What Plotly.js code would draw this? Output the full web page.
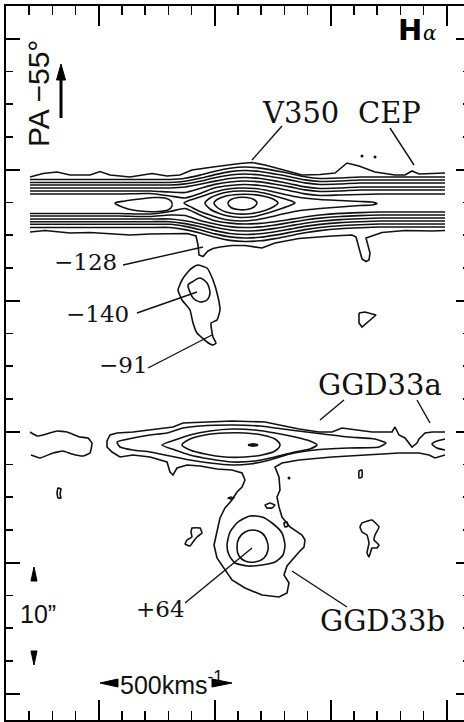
<!DOCTYPE html>
<html><head><meta charset="utf-8">
<script src="https://cdn.plot.ly/plotly-3.0.1.min.js"></script>
<style>html,body{margin:0;padding:0;overflow:hidden;background:#fff}</style>
</head><body><div id="chart"></div>
<script>

// ---- V350 CEP band: common velocity samples for the smooth inner band contours
const bandX = [30,60,90,120,150,170,185,200,215,230,245,260,275,290,305,320,340,360,380,400,420,445];
const bandU2 = [179.5,179.5,179.5,179.5,179.5,179.5,178.3,175.1,171.2,168.2,167,168.1,170.6,173.5,176.8,178.5,178,177,177,177,177,177];
const bandU3 = [182.5,182.5,182.5,182.5,182.5,182.5,181.3,178.3,174.6,171.6,170.5,171.5,174,176.7,179.9,181.5,181,180,180,180,180,180];
const bandU4 = [185,185,185,185,185,185,183.9,181.2,177.7,175,174,175,177.3,179.9,182.9,184.5,184,183,183,183,183,183];
const bandU5 = [188,188,188,188,188,188,187,184.3,181.1,178.5,177.5,178.5,180.9,183.7,186.9,188.5,188,187,187,187,187,187];
const bandU6 = [191,191,191,191,191,192,192.5,188.5,184.4,182,181,181.9,184.2,186.9,189.9,191.5,191,190,190,190,190,190];
const bandU7 = [194,194,194,194,193.5,196,198,193.5,187.8,185.5,184.5,185.5,187.8,190.7,193.9,195.5,195,194.5,194,194,194,194];
const bandL7 = [213.5,213.5,213.5,213.5,214,211.5,208.5,215,220.8,223.1,224,223.4,221.7,219.4,217,215,213.4,212.6,212,212,212,212];
const bandL6 = [216,216,216,216,216.5,215,215.5,220.6,224,226.6,227.5,226.9,225,222.5,220,218.1,216.5,215.6,215,215,215,215];
const bandL5 = [219,219,219,219,219,219,220.8,223.8,227.3,230,231,230.4,228.4,225.8,223.2,221.3,219.6,218.7,218,218,218,218];
const bandL4 = [221.7,221.7,221.7,221.7,221.7,221.7,223.6,226.8,230.6,233.5,234.5,233.8,231.8,229.1,226.4,224.4,222.6,221.7,221,221,221,221];
const bandL3 = [224.3,224.3,224.3,224.3,224.3,224.3,226.4,229.8,233.9,236.9,238,237.3,235.1,232.4,229.6,227.5,225.7,224.7,224,224,224,224];
const bandL2 = [227.5,227.5,227.5,227.5,227.5,227.5,229.6,233.1,237.3,240.4,241.5,240.8,238.6,235.7,232.8,230.6,228.7,227.7,227,227,227,227];

// outermost band contours (irregular)
const bandU1X = [30,43,57,70,90,100,110,130,152,167,180,192,213,227,240,252,265,280,302,320,335,347,359,375,395,405,412,419,445];
const bandU1Y = [177,173.5,172,175,175,171.5,175,177,173.5,176,175,170,167,165,163.5,162.5,165,169,175,174.5,173,163,166,172,175,175,171,174,173];
const bandL1X = [30,45,55,70,90,110,130,150,170,187,196,198,199,203,208,213,220,232,245,262,275,299,332,352,356,359,362,366,369,370,367,366,382,405,432,445];
const bandL1Y = [232,230.5,231.5,233,232.5,233.5,235,234,234,233.5,236,245,255,256.5,251,248.5,247,245.5,245.5,248,243,238.5,236,235,237,248,259,261.5,260,253,243,238,232.5,230.5,231,230.5];

// closed inner contours around the V350 CEP peak
const v8lobeX = [115,125,140,155,165,171,172,168,158,140,125,115];
const v8lobeY = [203,201,199,197.5,198,201,206,210,211.5,211,208,203];
const v8X = [184,192,200,210,225,240,255,270,285,300,320,340,360,372,377,372,360,340,320,300,285,270,255,240,225,210,200,192,184];
const v8Y = [203,199.5,197,193.5,189.5,188,188.5,191,194.5,197.5,199.5,200.5,201.5,202,203.5,205,205.5,207,208.5,210.5,213.5,217,220,221,219.5,215,211.5,207.5,203];
const v9X = [205,210,218,228,240,255,268,280,290,295,290,280,268,255,240,228,218,210,205];
const v9Y = [203,198,194.5,192,191,191.5,194,197.5,200.5,203,205.5,209,213,216.5,217.5,216,213,209,203];
const v10X = [214,218,226,238,252,265,274,278,274,265,252,238,226,218,214];
const v10Y = [203,199,196,194.5,194.5,196.5,199.5,203,206.5,210.5,213.5,214,212,208,203];
const v11X = [228,231,238,247,254,257,254,247,238,231,228];
const v11Y = [203,199.5,197.5,197.5,199.5,203,207,209.5,209.5,207.5,203];

// knot below V350 CEP (-140 / -91)
const k140outerX = [198,207,213,218,220,217,211,213,216,213,207,197,193,190,182,178,182,187,192,198];
const k140outerY = [265,268,280,297,310,320,323,337,343,345,342,333,323,310,300,290,280,273,268,265];
const k140innerX = [192,200,207,210,207,200,193,190,188,192];
const k140innerY = [282,278,283,293,300,302,298,292,285,282];
const islandAX = [359,365,376,370,362,359,359];
const islandAY = [313,312,315,320,327,323,313];

// ---- GGD33a / GGD33b system
const gaLeftX = [30,37,43,57,67,80,88,92,90,83,72,63,53,40,31];
const gaLeftY = [432,436,435,431,432,437,438,443,453,456,454,451,453,458,455];
const gaOuterX = [445,432,425,419,417,412,405,399,395,392,372,355,342,332,319,299,265,232,200,183,173,150,133,117,110,107,107,112,120,133,150,167,170,173,177,187,200,217,232,242,245,242,237,232,225,220,217,214,217,223,232,245,262,279,287,289,284,287,292,299,304,305,302,290,282,279,277,280,279,275,282,299,332,365,399,419,429,435,445];
const gaOuterY = [432,432,433,439,443,447,438,435,427,432,432,430,428,432,432,429,422,421,422,423,427,430,432,433,435,441,447,452,457,455,457,462,472,475,468,465,466,469,470,473,480,487,492,500,508,518,530,545,558,567,580,588,595,597,593,583,575,566,560,552,547,540,535,527,517,507,497,490,477,467,463,460,457,455,453,453,455,458,455];
const gaEdgeLoopX = [445,437,432,437,445];
const gaEdgeLoopY = [439,441,444,448,450];
const ga2X = [117,133,150,167,183,200,232,260,290,315,349,375,386,379,349,315,290,270,250,232,210,190,170,150,133,120,117];
const ga2Y = [442,438,435,433,428,426,425,426,430,433,437,439,443,447,448,450,454,460,464,465,463,460,456,452,450,447,442];
const ga3X = [162,175,190,210,232,255,275,295,310,317,310,295,275,255,232,210,190,175,162];
const ga3Y = [445,440,435,431,429,430,433,437,441,445,449,452,457,461,462,459,455,450,445];
const ga4X = [182,190,205,225,245,262,275,280,275,262,245,225,205,190,182];
const ga4Y = [445,439,435,433,433,435,439,445,451,455,457,457,454,450,445];
const ga5X = [248,253,258,253,248];
const ga5Y = [445,444,445,446,445];
const gb2X = [227,230,238,250,262,272,282,285,283,275,262,248,235,229,227];
const gb2Y = [545,532,522,516,517,523,533,545,555,562,565,566,563,555,545];
const gb3X = [237,239,245,253,262,267,268,264,255,245,239,237];
const gb3Y = [548,538,532,530,533,541,550,558,562,561,556,548];

// small isolated contours
const bitsX = [
  [58,61,60,61,58,57,58],
  [192,200,202,197,193,190,185,187,192,191,192],
  [228,231,234,231,228],
  [265,270,275,272,267,265],
  [362,372,379,375,374,379,377,372,369,367,369,367,362,360,362],
  [359,362,362,359,359],
  [284,287,288,285,284]
];
const bitsY = [
  [488,489,494,498,498,493,488],
  [528,528,533,537,542,546,544,540,537,532,528],
  [498,497,498,499,498],
  [505,503,505,508,508,505],
  [523,520,527,535,540,545,548,548,557,553,543,535,532,527,523],
  [471,470,477,478,471],
  [523,522,526,527,523]
];
const specksX = [362,375,289];
const specksY = [156,157,478];

// ---- labels: [text, x, y]
const nameLabels = [["V350",300.5,112.5],["CEP",389.5,112.5],["GGD33a",380,384.5],["GGD33b",382,621]];
const velLabels = [["\u2212128",85,261.5],["\u2212140",97.5,313.5],["\u221291",123.5,365],["+64",160,608.5]];
// leader lines: [x0,y0,x1,y1]
const leaders = [[252,160,282,126],[390,128,414,165],[123,265,203,247],[137,313,197,292],[148,368,212,335],[344,400,320,420],[417,400,430,423],[185,603,252,548],[347,607,292,571]];

// ---------------------------------------------------------------
const INK = '#111';
const traces = [];
function line(x, y, smooth, w) {
  traces.push({type:'scatter', mode:'lines', x:x, y:y, hoverinfo:'skip',
    line:{color:INK, width:w||1.6, shape: smooth ? 'spline' : 'linear', smoothing: smooth||0}});
}
[bandU2,bandU3,bandU4,bandU5,bandU6,bandU7,bandL7,bandL6,bandL5,bandL4,bandL3,bandL2].forEach(y => line(bandX, y, 0.6));
line(bandU1X, bandU1Y, 0);
line(bandL1X, bandL1Y, 0);
line(v8lobeX, v8lobeY, 0.8);
line(v8X, v8Y, 0.6);
line(v9X, v9Y, 0.7);
line(v10X, v10Y, 0.8);
line(v11X, v11Y, 0.9);
line(k140outerX, k140outerY, 0.4);
line(k140innerX, k140innerY, 0.8);
line(islandAX, islandAY, 0);
line(gaLeftX, gaLeftY, 0.3);
line(gaOuterX, gaOuterY, 0);
line(gaEdgeLoopX, gaEdgeLoopY, 0.6);
line(ga2X, ga2Y, 0.5);
line(ga3X, ga3Y, 0.6);
line(ga4X, ga4Y, 0.8);
line(ga5X, ga5Y, 0, 2.2);
line(gb2X, gb2Y, 0.6);
line(gb3X, gb3Y, 0.8);
bitsX.forEach((bx, i) => line(bx, bitsY[i], 0.3));
traces.push({type:'scatter', mode:'markers', x:specksX, y:specksY, hoverinfo:'skip',
  marker:{color:INK, size:3}});

const annotations = [];
nameLabels.forEach(l => annotations.push({x:l[1], y:l[2], xref:'x', yref:'y', text:l[0], showarrow:false,
  xanchor:'center', yanchor:'middle', font:{family:'DejaVu Serif', size:29, color:INK}}));
velLabels.forEach(l => annotations.push({x:l[1], y:l[2], xref:'x', yref:'y', text:l[0], showarrow:false,
  xanchor:'center', yanchor:'middle', font:{family:'DejaVu Serif', size:23, color:INK}}));
annotations.push({x:38, y:94, xref:'x', yref:'y', text:'PA \u221255\u00b0', textangle:-90, showarrow:false,
  xanchor:'center', yanchor:'middle', font:{family:'Liberation Sans', size:30, color:INK}});
annotations.push({x:37.5, y:614, xref:'x', yref:'y', text:'10\u201d', showarrow:false,
  xanchor:'center', yanchor:'middle', font:{family:'Liberation Sans', size:25, color:INK}});
annotations.push({x:118, y:683, xref:'x', yref:'y', text:'500kms<sup>-1</sup>', showarrow:false,
  xanchor:'left', yanchor:'middle', font:{family:'Liberation Sans', size:25, color:INK}});
annotations.push({x:409.5, y:30, xref:'x', yref:'y', text:'<b>H</b>', showarrow:false,
  xanchor:'center', yanchor:'middle', font:{family:'DejaVu Sans', size:29, color:'#000'}});
annotations.push({x:430, y:33, xref:'x', yref:'y', text:'<i>\u03b1</i>', showarrow:false,
  xanchor:'center', yanchor:'middle', font:{family:'DejaVu Serif', size:20, color:'#000'}});

const shapes = leaders.map(s => ({type:'line', xref:'x', yref:'y', x0:s[0], y0:s[1], x1:s[2], y1:s[3],
  line:{color:INK, width:1.4}}));
shapes.push({type:'line', xref:'x', yref:'y', x0:61, y0:118, x1:61, y1:78, line:{color:'#000', width:3}});
['M56.5,80 L61,64 L65.5,80 Z','M31,581 L34,567 L37,581 Z','M31,651 L34,665 L37,651 Z',
 'M118,679 L100,683 L118,687 Z','M212,679 L232,683 L212,687 Z'].forEach(p =>
  shapes.push({type:'path', xref:'x', yref:'y', path:p, fillcolor:'#000', line:{color:'#000', width:1}}));

const axisCommon = {showline:true, linewidth:2, linecolor:'#000', mirror:'allticks', ticks:'inside',
  showticklabels:false, showgrid:false, zeroline:false, tickcolor:'#000', tickwidth:1.6, tickmode:'linear'};
const layout = {
  width:472, height:722, margin:{l:6, r:2, t:6, b:2, pad:0},
  paper_bgcolor:'#fff', plot_bgcolor:'#fff', showlegend:false, hovermode:false,
  xaxis:Object.assign({}, axisCommon, {range:[6,470], tick0:98.8, dtick:116, ticklen:20,
    minor:{ticks:'inside', tick0:6, dtick:23.2, ticklen:9, tickwidth:1.6, tickcolor:'#000', showgrid:false}}),
  yaxis:Object.assign({}, axisCommon, {range:[720,6], tick0:38.75, dtick:131, ticklen:14,
    minor:{ticks:'inside', tick0:6, dtick:32.75, ticklen:7, tickwidth:1.6, tickcolor:'#000', showgrid:false}}),
  annotations:annotations, shapes:shapes
};
Plotly.newPlot('chart', traces, layout, {displayModeBar:false, staticPlot:true});
</script></body></html>
